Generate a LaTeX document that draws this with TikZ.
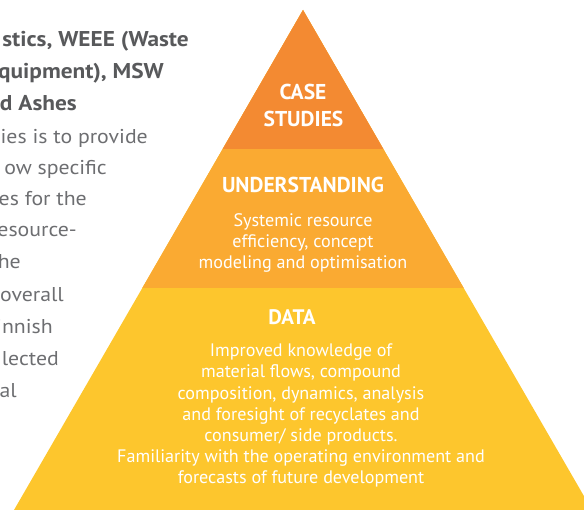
\documentclass[tikz,border=0pt]{standalone}
\usepackage{fontspec}
\setmainfont{PT Sans}
\newfontfamily\leftfont[FakeStretch=1.09]{PT Sans}
\definecolor{topc}{HTML}{F38A32}
\definecolor{midc}{HTML}{FAAA32}
\definecolor{botc}{HTML}{FDC62D}
\definecolor{boldgray}{HTML}{58595B}
\definecolor{reggray}{HTML}{6D6E71}
\tikzset{
  lbold/.style={anchor=base east, inner sep=0pt, text=boldgray, font=\leftfont\fontsize{21.4}{21}\selectfont\bfseries},
  lreg/.style={anchor=base east, inner sep=0pt, text=reggray, font=\leftfont\fontsize{20}{20}\selectfont},
  phead/.style={anchor=base, inner sep=0pt, text=white, font=\fontsize{21.5}{21}\selectfont\bfseries},
  ptext/.style={anchor=base, inner sep=0pt, text=white, font=\fontsize{18.1}{18}\selectfont},
}
\begin{document}
\begin{tikzpicture}[x=1pt,y=-1pt]
\useasboundingbox (0,0) rectangle (584,510);
\clip (0,0) rectangle (584,510);
% pyramid
\coordinate (apex) at (303,10);
\coordinate (b1l) at (222.7,149);
\coordinate (b1r) at (383.3,149);
\coordinate (b2l) at (142.3,288);
\coordinate (b2r) at (463.7,288);
\coordinate (b3l) at (14,510);
\coordinate (b3r) at (592,510);
\fill[botc] (apex) -- (b3l) -- (b3r) -- cycle;
\fill[midc] (apex) -- (b2l) -- (b2r) -- cycle;
\fill[topc] (apex) -- (b1l) -- (b1r) -- cycle;
% left text
\node[lbold] (l1) at (189,47) {stics, WEEE (Waste};
\node[lbold] (l2) at (164,79) {quipment), MSW};
\node[lbold] (l3) at (77,111) {d Ashes};
\node[lreg] (r1) at (148,144) {ies is to provide};
\node[lreg] (r2) at (107,175) {ow specific};
\node[lreg] (r3) at (87,206) {es for the};
\node[lreg] (r4) at (77,237) {esource-};
\node[lreg] (r5) at (21,269) {he};
\node[lreg] (r6) at (64,302) {overall};
\node[lreg] (r7) at (53,334) {innish};
\node[lreg] (r8) at (59,366) {lected};
\node[lreg] (r9) at (17,398) {bal};
% pyramid texts
\node[phead] (case) at (303,100) {CASE};
\node[phead] (studies) at (303.5,127) {STUDIES};
\node[phead] (und) at (303,193) {UNDERSTANDING};
\node[ptext] (u1) at (303,226.7) {Systemic resource};
\node[ptext] (u2) at (303,247.5) {efficiency, concept};
\node[ptext] (u3) at (303,268.5) {modeling and optimisation};
\node[phead, font=\fontsize{21}{21}\selectfont\bfseries] (data) at (292,325) {DATA};
\node[ptext] (d1) at (301,356.7) {Improved knowledge of};
\node[ptext] (d2) at (301,378) {material flows, compound};
\node[ptext] (d3) at (301,399.5) {composition, dynamics, analysis};
\node[ptext] (d4) at (301,420.5) {and foresight of recyclates and};
\node[ptext] (d5) at (301,441.7) {consumer/ side products.};
\node[ptext] (d6) at (301,462.7) {Familiarity with the operating environment and};
\node[ptext] (d7) at (301,483.5) {forecasts of future development};
\end{tikzpicture}
\end{document}
